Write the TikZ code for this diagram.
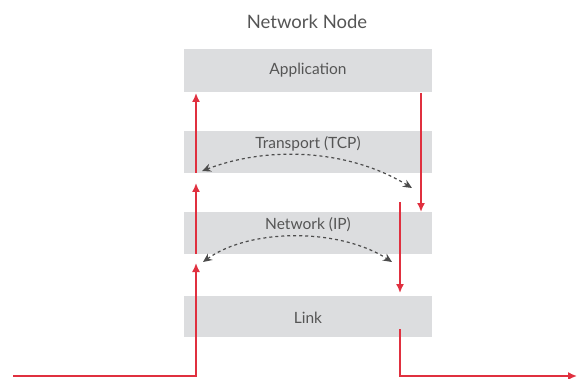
\documentclass[tikz,border=0pt]{standalone}
\usepackage{fontspec}
\setmainfont{Lato}
\usetikzlibrary{arrows.meta}

\definecolor{layergray}{HTML}{DCDDDF}
\definecolor{pktred}{HTML}{E0303F}
\definecolor{txtgray}{HTML}{555555}

\begin{document}
\begin{tikzpicture}[x=1pt, y=-1pt,
        layer/.style={fill=layergray, minimum width=248pt, minimum height=42pt, inner sep=0pt},
        lbl/.style={text=txtgray, font=\fontsize{15.5}{18}\selectfont},
        pkt/.style={pktred, line width=1.6pt, -{Latex[length=9pt, width=8pt]}},
        peer/.style={black!70, dashed, line width=1.2pt,
            {Stealth[length=9pt, width=8pt]}-{Stealth[length=9pt, width=8pt]}}]
        \useasboundingbox (0,0) rectangle (577,379);

        % Title
        \node [lbl, font=\fontsize{18.5}{22}\selectfont] (title) at (307,22) {Network Node};

        % Layers
        \node [layer, minimum height=43pt] (app) at (308,70.5) {};
        \node [layer] (tcp) at (308,152) {};
        \node [layer] (ip) at (308,233) {};
        \node [layer, minimum height=41pt] (link) at (308,316.5) {};

        % Layer names
        \node [lbl] (apptext) at (308,70) {Application};
        \node [lbl] (tcptext) at (308,144) {Transport (TCP)};
        \node [lbl] (iptext) at (308,225) {Network (IP)};
        \node [lbl] (linktext) at (308,318) {Link};

        % Way up (left)
        \coordinate (inL) at (13,376);
        \coordinate (upA) at (196,263);
        \coordinate (upB0) at (196,254);
        \coordinate (upB) at (196,183);
        \coordinate (upC0) at (196,173);
        \coordinate (upC) at (196,93);
        \draw [pkt] (inL) -| (upA);
        \draw [pkt] (upB0) -- (upB);
        \draw [pkt] (upC0) -- (upC);

        % Way down (right)
        \coordinate (dnA0) at (421,93);
        \coordinate (dnA) at (421,212);
        \coordinate (dnB0) at (400,202);
        \coordinate (dnB) at (400,293);
        \coordinate (dnC0) at (400,329);
        \coordinate (outR) at (577,376);
        \draw [pkt] (dnA0) -- (dnA);
        \draw [pkt] (dnB0) -- (dnB);
        \draw [pkt] (dnC0) |- (outR);

        % Peer exchanges
        \coordinate (tcpL) at (202,171);
        \coordinate (tcpR) at (412,188);
        \coordinate (ipL) at (203,262);
        \coordinate (ipR) at (392,262);
        \draw [peer] (tcpL) .. controls (270,145) and (350,150) .. (tcpR);
        \draw [peer] (ipL) .. controls (250,228) and (340,228) .. (ipR);
    \end{tikzpicture}
\end{document}
